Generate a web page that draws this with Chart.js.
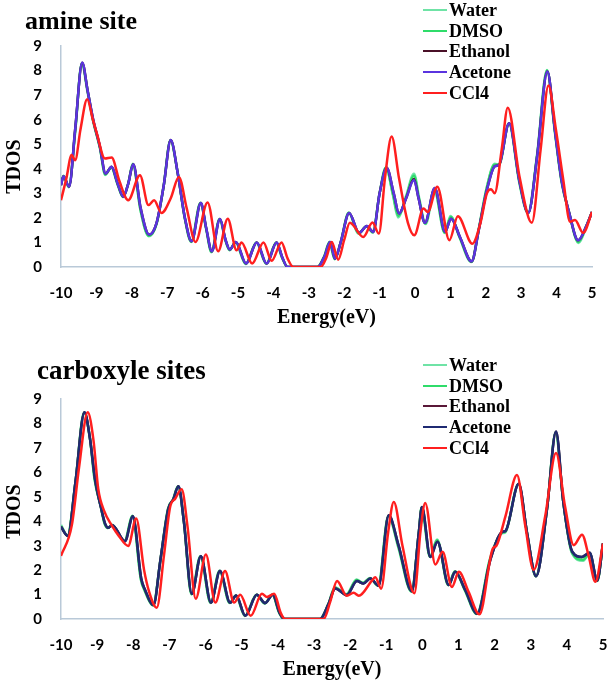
<!DOCTYPE html>
<html>
<head>
<meta charset="utf-8">
<script src="https://cdn.jsdelivr.net/npm/chart.js@4"></script>
<style>
body{margin:0;background:#fff;width:611px;height:685px;position:relative;overflow:hidden;}
.box{position:absolute;left:0;width:611px;}
.ttl{position:absolute;font-family:"Liberation Serif","Times New Roman",serif;font-weight:bold;color:#000;white-space:nowrap;}
.leg{position:absolute;left:423px;font-family:"Liberation Serif","Times New Roman",serif;font-weight:bold;font-size:18px;color:#000;}
.leg div{position:relative;height:20.7px;line-height:21px;padding-left:26px;white-space:nowrap;}
.leg span{position:absolute;left:0;top:9px;width:24px;height:2px;}
</style>
</head>
<body>
<div class="box" style="top:0;height:340px"><canvas id="amine" width="611" height="340"></canvas></div>
<div class="box" style="top:340px;height:345px"><canvas id="carb" width="611" height="345"></canvas></div>
<div class="ttl" style="left:25px;top:8px;font-size:26px;line-height:26px">amine site</div>
<div class="ttl" style="left:37px;top:357px;font-size:27px;line-height:27px">carboxyle sites</div>
<div class="leg" id="legA" style="top:0"></div>
<div class="leg" id="legB" style="top:355px"></div>
<script>
const seriesNames=['Water','DMSO','Ethanol','Acetone','CCl4'];
const colorsA=['#6fe3a6','#2fdc6a','#4a1028','#5a34df','#ff1f1f'];
const colorsB=['#6fe3a6','#2fdc6a','#5a1838','#1f2a72','#ff1f1f'];
const xTicks=[-10,5,1];
const yTicks=[0,9,1];

// amine site: [energy, TDOS]
const amineWater=[[-10,3.35],[-9.93,3.72],[-9.78,3.25],[-9.6,5.5],[-9.41,8.3],[-9.26,7.2],[-9.1,6.0],[-8.9,4.85],[-8.75,3.75],[-8.58,4.05],[-8.4,3.35],[-8.25,2.85],[-8.1,3.4],[-7.97,4.2],[-7.76,2.35],[-7.52,1.25],[-7.3,1.75],[-7.1,3.3],[-6.91,5.15],[-6.7,3.8],[-6.5,1.95],[-6.32,1.02],[-6.06,2.62],[-5.9,1.55],[-5.75,0.6],[-5.52,1.95],[-5.35,1.05],[-5.24,0.68],[-5.07,1.0],[-4.78,0.12],[-4.48,1.0],[-4.2,0.12],[-3.92,1.0],[-3.76,0.4],[-3.61,0],[-2.76,0],[-2.56,0.45],[-2.42,1.02],[-2.27,0.32],[-2.1,1.0],[-1.87,2.22],[-1.6,1.35],[-1.37,1.65],[-1.19,1.4],[-1.0,3.0],[-0.82,4.05],[-0.62,2.9],[-0.48,2.02],[-0.25,2.9],[-0.03,3.8],[0.12,2.8],[0.3,1.75],[0.55,3.1],[0.84,1.38],[1.0,2.08],[1.26,1.2],[1.59,0.2],[1.8,1.55],[2.02,3.2],[2.25,4.2],[2.37,4.18],[2.65,5.85],[2.95,3.4],[3.19,2.2],[3.45,4.6],[3.73,8.02],[3.95,5.5],[4.14,3.45],[4.36,2.2],[4.62,0.98],[4.86,1.72],[5,2.24]];
const amineDMSO=[[-10,3.34],[-9.93,3.71],[-9.78,3.26],[-9.6,5.5],[-9.41,8.31],[-9.25,7.2],[-9.1,6.0],[-8.9,4.85],[-8.75,3.77],[-8.58,4.06],[-8.4,3.37],[-8.25,2.85],[-8.1,3.4],[-7.97,4.19],[-7.76,2.37],[-7.52,1.27],[-7.3,1.77],[-7.1,3.3],[-6.91,5.16],[-6.7,3.8],[-6.5,1.97],[-6.32,1.03],[-6.06,2.61],[-5.9,1.57],[-5.75,0.62],[-5.52,1.95],[-5.35,1.07],[-5.24,0.69],[-5.07,1.01],[-4.78,0.13],[-4.48,1.0],[-4.2,0.13],[-3.92,1.0],[-3.76,0.4],[-3.6,0],[-2.76,0],[-2.56,0.45],[-2.41,1.02],[-2.27,0.33],[-2.1,1.0],[-1.87,2.21],[-1.59,1.37],[-1.37,1.66],[-1.19,1.42],[-1.0,3.0],[-0.82,4.05],[-0.62,2.95],[-0.47,2.08],[-0.25,2.85],[-0.03,3.72],[0.11,2.8],[0.29,1.77],[0.55,3.15],[0.84,1.4],[1.01,2.04],[1.26,1.21],[1.6,0.21],[1.8,1.52],[2.02,3.17],[2.25,4.16],[2.37,4.16],[2.66,5.85],[2.95,3.45],[3.2,2.2],[3.45,4.55],[3.73,8.0],[3.95,5.55],[4.14,3.5],[4.35,2.22],[4.61,1.02],[4.85,1.71],[5,2.24]];
const amineEthanol=[[-10,3.33],[-9.93,3.7],[-9.77,3.27],[-9.6,5.6],[-9.4,8.32],[-9.25,7.2],[-9.09,6.0],[-8.9,4.9],[-8.74,3.81],[-8.57,4.08],[-8.4,3.4],[-8.24,2.86],[-8.1,3.4],[-7.96,4.18],[-7.75,2.4],[-7.51,1.32],[-7.3,1.8],[-7.1,3.3],[-6.9,5.17],[-6.7,3.8],[-6.5,2.0],[-6.31,1.05],[-6.05,2.61],[-5.9,1.6],[-5.74,0.64],[-5.51,1.95],[-5.35,1.1],[-5.23,0.71],[-5.06,1.02],[-4.77,0.14],[-4.47,1.0],[-4.19,0.14],[-3.91,1.0],[-3.75,0.4],[-3.6,0],[-2.75,0],[-2.55,0.45],[-2.4,1.02],[-2.26,0.34],[-2.1,1.0],[-1.86,2.2],[-1.58,1.39],[-1.36,1.67],[-1.18,1.43],[-1.0,3.0],[-0.8,4.04],[-0.6,3.0],[-0.45,2.18],[-0.25,2.8],[-0.03,3.58],[0.1,2.8],[0.28,1.8],[0.56,3.22],[0.85,1.43],[1.02,1.97],[1.27,1.22],[1.6,0.23],[1.8,1.5],[2.03,3.13],[2.26,4.11],[2.37,4.15],[2.66,5.85],[2.95,3.5],[3.2,2.2],[3.45,4.5],[3.74,7.96],[3.95,5.6],[4.14,3.54],[4.35,2.24],[4.61,1.09],[4.85,1.7],[5,2.24]];
const amineAcetone=[[-10,3.33],[-9.93,3.7],[-9.77,3.27],[-9.6,5.6],[-9.4,8.33],[-9.25,7.2],[-9.09,6.0],[-8.9,4.9],[-8.74,3.81],[-8.57,4.08],[-8.4,3.4],[-8.24,2.86],[-8.1,3.4],[-7.96,4.18],[-7.75,2.4],[-7.51,1.32],[-7.3,1.8],[-7.1,3.3],[-6.9,5.17],[-6.7,3.8],[-6.5,2.0],[-6.31,1.05],[-6.05,2.61],[-5.9,1.6],[-5.74,0.64],[-5.51,1.95],[-5.35,1.1],[-5.23,0.71],[-5.06,1.02],[-4.77,0.14],[-4.47,1.0],[-4.19,0.14],[-3.91,1.0],[-3.75,0.4],[-3.6,0],[-2.75,0],[-2.55,0.45],[-2.4,1.02],[-2.26,0.34],[-2.1,1.0],[-1.86,2.2],[-1.58,1.39],[-1.36,1.67],[-1.18,1.43],[-1.0,3.0],[-0.8,4.04],[-0.6,3.0],[-0.45,2.18],[-0.25,2.8],[-0.03,3.54],[0.1,2.8],[0.28,1.8],[0.56,3.22],[0.85,1.43],[1.02,1.97],[1.27,1.22],[1.6,0.23],[1.8,1.5],[2.03,3.13],[2.26,4.11],[2.37,4.15],[2.66,5.85],[2.95,3.5],[3.2,2.2],[3.45,4.5],[3.74,7.96],[3.95,5.6],[4.14,3.54],[4.35,2.24],[4.61,1.09],[4.85,1.7],[5,2.24]];
const amineCCl4=[[-10,2.72],[-9.85,3.6],[-9.7,4.56],[-9.6,4.35],[-9.45,5.6],[-9.26,6.83],[-9.1,6.0],[-8.99,5.45],[-8.76,4.42],[-8.57,4.46],[-8.35,3.5],[-8.1,2.72],[-7.77,3.74],[-7.53,2.52],[-7.37,2.72],[-7.16,2.2],[-6.9,2.8],[-6.67,3.67],[-6.45,2.4],[-6.2,1.02],[-5.86,2.63],[-5.56,0.64],[-5.29,1.97],[-5.04,0.68],[-4.9,1.0],[-4.6,0.14],[-4.28,1.0],[-4.05,0.25],[-3.77,1.0],[-3.6,0.35],[-3.44,0],[-2.66,0],[-2.5,0.4],[-2.35,1.02],[-2.17,0.3],[-2.0,1.1],[-1.84,1.8],[-1.46,1.22],[-1.2,1.81],[-1.02,1.36],[-0.85,3.6],[-0.66,5.31],[-0.45,3.6],[-0.2,1.8],[-0.02,1.29],[0.24,2.38],[0.36,2.24],[0.63,3.27],[0.97,1.09],[1.21,2.07],[1.62,0.95],[1.85,1.8],[2.03,3.0],[2.15,3.17],[2.25,3.0],[2.45,4.8],[2.62,6.49],[2.95,3.7],[3.3,1.8],[3.55,4.8],[3.77,7.39],[3.98,5.6],[4.19,3.54],[4.38,1.84],[4.52,1.91],[4.75,1.39],[5,2.24]];

// carboxyle sites: [energy, TDOS]
const carbWater=[[-10,3.85],[-9.82,3.42],[-9.6,5.6],[-9.36,8.44],[-9.2,7.4],[-9.07,5.7],[-8.9,4.6],[-8.79,3.88],[-8.7,3.72],[-8.59,3.86],[-8.24,3.2],[-8.02,4.22],[-7.79,1.62],[-7.68,1.15],[-7.45,0.55],[-7.25,2.4],[-7.04,4.5],[-6.9,4.88],[-6.76,5.42],[-6.6,4.0],[-6.39,1.0],[-6.14,2.58],[-5.86,0.65],[-5.61,1.97],[-5.33,0.65],[-5.16,0.95],[-4.91,0.12],[-4.59,0.99],[-4.36,0.63],[-4.15,0.99],[-3.96,0.25],[-3.83,0],[-2.84,0],[-2.6,0.62],[-2.42,1.3],[-2.1,1.02],[-1.82,1.62],[-1.64,1.48],[-1.45,1.68],[-1.22,1.36],[-0.94,4.2],[-0.66,2.9],[-0.3,1.12],[-0.1,3.5],[-0.02,4.55],[0.21,2.55],[0.41,3.25],[0.72,1.38],[0.9,1.95],[1.18,1.16],[1.51,0.2],[1.87,2.45],[2.2,3.5],[2.3,3.55],[2.66,5.5],[2.9,3.5],[3.14,1.75],[3.45,4.5],[3.69,7.62],[3.9,4.8],[4.14,2.7],[4.45,2.38],[4.63,2.68],[4.84,1.55],[5,3.09]];
const carbDMSO=[[-10,3.8],[-9.82,3.41],[-9.6,5.6],[-9.36,8.45],[-9.2,7.4],[-9.07,5.72],[-8.9,4.6],[-8.79,3.89],[-8.7,3.72],[-8.59,3.85],[-8.24,3.19],[-8.02,4.21],[-7.79,1.64],[-7.68,1.16],[-7.45,0.56],[-7.25,2.4],[-7.04,4.5],[-6.9,4.89],[-6.76,5.43],[-6.6,4.0],[-6.39,1.02],[-6.14,2.57],[-5.86,0.66],[-5.61,1.96],[-5.33,0.66],[-5.16,0.96],[-4.91,0.13],[-4.59,0.99],[-4.36,0.64],[-4.15,0.99],[-3.96,0.25],[-3.83,0],[-2.84,0],[-2.6,0.61],[-2.42,1.28],[-2.1,1.0],[-1.82,1.6],[-1.64,1.47],[-1.45,1.67],[-1.22,1.36],[-0.94,4.22],[-0.66,2.95],[-0.3,1.13],[-0.1,3.5],[-0.02,4.57],[0.21,2.55],[0.41,3.22],[0.72,1.39],[0.9,1.94],[1.18,1.17],[1.51,0.21],[1.87,2.43],[2.2,3.53],[2.3,3.58],[2.66,5.52],[2.9,3.5],[3.14,1.75],[3.45,4.5],[3.69,7.65],[3.9,4.8],[4.14,2.72],[4.45,2.42],[4.63,2.7],[4.84,1.56],[5,3.09]];
const carbEthanol=[[-10,3.77],[-9.81,3.4],[-9.6,5.6],[-9.35,8.46],[-9.2,7.4],[-9.06,5.74],[-8.9,4.6],[-8.78,3.9],[-8.69,3.73],[-8.58,3.84],[-8.23,3.18],[-8.01,4.2],[-7.78,1.66],[-7.67,1.18],[-7.44,0.57],[-7.25,2.4],[-7.03,4.51],[-6.89,4.9],[-6.75,5.43],[-6.6,4.0],[-6.38,1.03],[-6.13,2.57],[-5.85,0.67],[-5.6,1.96],[-5.32,0.67],[-5.15,0.96],[-4.9,0.13],[-4.58,0.99],[-4.35,0.65],[-4.14,0.99],[-3.95,0.25],[-3.82,0],[-2.83,0],[-2.6,0.6],[-2.41,1.25],[-2.09,0.98],[-1.81,1.55],[-1.63,1.45],[-1.44,1.66],[-1.21,1.36],[-0.93,4.24],[-0.66,3.02],[-0.29,1.14],[-0.1,3.5],[-0.01,4.58],[0.22,2.54],[0.42,3.16],[0.73,1.39],[0.91,1.93],[1.19,1.18],[1.52,0.22],[1.88,2.41],[2.21,3.56],[2.3,3.6],[2.67,5.53],[2.9,3.5],[3.15,1.75],[3.45,4.5],[3.7,7.67],[3.9,4.8],[4.15,2.75],[4.42,2.54],[4.63,2.71],[4.84,1.58],[5,3.09]];
const carbAcetone=[[-10,3.77],[-9.81,3.4],[-9.6,5.6],[-9.35,8.46],[-9.2,7.4],[-9.06,5.74],[-8.9,4.6],[-8.78,3.9],[-8.69,3.73],[-8.58,3.84],[-8.23,3.18],[-8.01,4.2],[-7.78,1.66],[-7.67,1.18],[-7.44,0.57],[-7.25,2.4],[-7.03,4.51],[-6.89,4.9],[-6.75,5.43],[-6.6,4.0],[-6.38,1.03],[-6.13,2.57],[-5.85,0.67],[-5.6,1.96],[-5.32,0.67],[-5.15,0.96],[-4.9,0.13],[-4.58,0.99],[-4.35,0.65],[-4.14,0.99],[-3.95,0.25],[-3.82,0],[-2.83,0],[-2.6,0.6],[-2.41,1.25],[-2.09,0.98],[-1.81,1.55],[-1.63,1.45],[-1.44,1.66],[-1.21,1.36],[-0.93,4.24],[-0.66,3.02],[-0.29,1.14],[-0.1,3.5],[-0.01,4.58],[0.22,2.54],[0.42,3.16],[0.73,1.39],[0.91,1.93],[1.19,1.18],[1.52,0.22],[1.88,2.41],[2.21,3.56],[2.3,3.6],[2.67,5.53],[2.9,3.5],[3.15,1.75],[3.45,4.5],[3.7,7.67],[3.9,4.8],[4.15,2.75],[4.42,2.54],[4.63,2.71],[4.84,1.58],[5,3.09]];
const carbCCl4=[[-10,2.58],[-9.7,3.84],[-9.5,6.2],[-9.26,8.46],[-9.1,7.3],[-8.97,5.33],[-8.8,4.4],[-8.6,3.84],[-8.4,3.4],[-8.14,2.99],[-7.92,4.11],[-7.7,2.0],[-7.56,1.11],[-7.35,0.46],[-7.15,2.6],[-6.98,4.58],[-6.84,4.92],[-6.66,5.31],[-6.5,3.8],[-6.27,0.83],[-5.99,2.64],[-5.73,0.67],[-5.46,1.96],[-5.21,0.67],[-5.04,0.99],[-4.75,0.13],[-4.44,1.03],[-4.3,0.9],[-4.1,1.03],[-3.92,0.25],[-3.8,0],[-2.73,0],[-2.55,0.7],[-2.36,1.55],[-2.09,0.95],[-1.9,1.07],[-1.76,0.95],[-1.39,1.58],[-1.3,1.71],[-1.14,1.24],[-0.95,3.5],[-0.79,4.79],[-0.55,3.0],[-0.22,1.05],[-0.05,3.6],[0.08,4.75],[0.36,2.23],[0.56,2.75],[0.82,1.31],[1.01,1.93],[1.28,1.11],[1.58,0.19],[1.95,2.88],[2.05,3.0],[2.3,4.2],[2.62,5.89],[2.85,3.8],[3.08,2.01],[3.4,4.2],[3.7,6.79],[3.95,4.6],[4.19,3.02],[4.42,3.45],[4.6,2.6],[4.79,1.52],[5,3.09]];

const axisCol='#b9c9d8';
const tickFont={family:'Lato',weight:'bold',size:15};
const titleFont={family:'"Liberation Serif"',weight:'bold',size:20};

function makeChart(id,series,colors,padTop,padRight,xH,xTitlePad,yTitle){
  const datasets=series.map((s,i)=>({
    label:seriesNames[i],
    data:s.map(p=>({x:p[0],y:p[1]})),
    borderColor:colors[i],
    borderWidth:2.5,
    pointRadius:0,
    fill:false,
    cubicInterpolationMode:'monotone',
    order:series.length-i
  }));
  return new Chart(document.getElementById(id),{
    type:'line',
    data:{datasets},
    options:{
      responsive:false,animation:false,
      layout:{padding:{top:padTop,right:padRight,left:0,bottom:0}},
      plugins:{legend:{display:false},tooltip:{enabled:false}},
      scales:{
        x:{type:'linear',min:xTicks[0],max:xTicks[1],
          ticks:{stepSize:xTicks[2],color:'#000',font:tickFont,padding:17,maxRotation:0},
          grid:{display:false,drawTicks:false},
          border:{color:axisCol,width:1.5},
          title:{display:true,text:'Energy(eV)',color:'#000',font:titleFont,padding:{top:0,bottom:xTitlePad}},
          afterFit:s=>{s.height=xH;s.paddingLeft=0;s.paddingRight=0;}},
        y:{min:yTicks[0],max:yTicks[1],
          ticks:{stepSize:yTicks[2],color:'#000',font:tickFont,padding:19},
          grid:{display:false,drawTicks:false},
          border:{color:axisCol,width:1.5},
          title:{display:true,text:yTitle,color:'#000',font:titleFont,padding:{top:3,bottom:0}},
          afterFit:s=>{s.width=61;s.paddingTop=0;s.paddingBottom=0;}}
      }
    }
  });
}

function makeLegend(id,colors){
  const el=document.getElementById(id);
  seriesNames.forEach((n,i)=>{
    const row=document.createElement('div');
    row.innerHTML=`<span style="background:${colors[i]}"></span>${n}`;
    el.appendChild(row);
  });
}

// no-break spaces after the rotated title nudge it a little lower, as in the original
makeChart('amine',[amineWater,amineDMSO,amineEthanol,amineAcetone,amineCCl4],colorsA,46,19,73,10,'TDOS\u00a0\u00a0\u00a0\u00a0');
makeChart('carb',[carbWater,carbDMSO,carbEthanol,carbAcetone,carbCCl4],colorsB,59,8,66,3,'TDOS\u00a0');
makeLegend('legA',colorsA);
makeLegend('legB',colorsB);
</script>
</body>
</html>
